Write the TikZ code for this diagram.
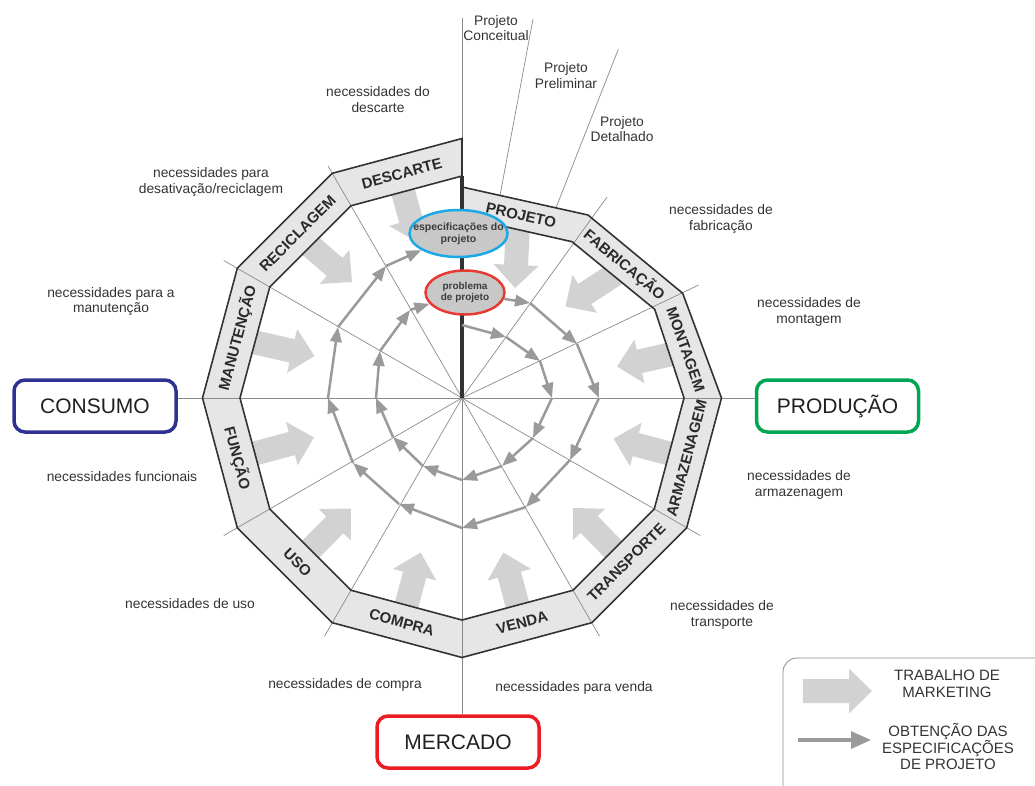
\documentclass[tikz,border=0pt]{standalone}
\usepackage{fontspec}
\setmainfont{Liberation Sans}
\usetikzlibrary{calc,arrows.meta,shapes.geometric}

\definecolor{bandfill}{HTML}{E6E6E6}
\definecolor{bandline}{HTML}{333333}
\definecolor{spokes}{HTML}{8A8A8A}
\definecolor{mkfill}{HTML}{D2D2D2}
\definecolor{spiralc}{HTML}{9A9A9A}
\definecolor{ellfill}{HTML}{C8C8C8}
\definecolor{specblue}{HTML}{1BA9E6}
\definecolor{probred}{HTML}{E63A32}
\definecolor{consblue}{HTML}{2E3192}
\definecolor{prodgreen}{HTML}{00A651}
\definecolor{mercred}{HTML}{ED1C24}
\definecolor{txt}{HTML}{333333}
\definecolor{ringtxt}{HTML}{2A2A2A}
\definecolor{elltxt}{HTML}{3C3C3C}
\definecolor{boxtxt}{HTML}{231F20}
\definecolor{framec}{HTML}{8C8C8C}

% broad flat arrow from tail #1 to tip #2
\newcommand\fatarrow[2]{%
  \coordinate (fab) at ($(#2)!23pt!(#1)$);
  \fill[mkfill] ($(#1)!12pt!90:(#2)$) -- ($(fab)!12pt!90:(#2)$)
    -- ($(fab)!22.5pt!90:(#2)$) -- (#2) -- ($(fab)!22.5pt!-90:(#2)$)
    -- ($(fab)!12pt!-90:(#2)$) -- ($(#1)!12pt!-90:(#2)$) -- cycle;}

\begin{document}
\begin{tikzpicture}[x=1pt,y=-1pt,
  needs/.style={font=\fontsize{13.8}{15.5}\selectfont, text=txt, align=center, inner sep=0pt},
  ringlbl/.style={font=\bfseries\fontsize{15}{15}\selectfont, text=ringtxt, inner sep=0pt},
  spoke/.style={draw=spokes, line width=0.7pt},
  axisline/.style={draw=spokes, line width=1pt},
  spiral/.style={draw=spiralc, line width=2.5pt, -{Triangle[length=15pt,width=11.5pt]}},
  bigbox/.style={draw=#1, line width=3.5pt, rounded corners=11pt, fill=white,
    minimum width=162pt, minimum height=52pt, inner sep=0pt,
    font=\fontsize{21}{21}\selectfont, text=boxtxt},
  ell/.style={ellipse, draw=#1, line width=2.5pt, fill=ellfill, inner sep=0pt},
  elltext/.style={align=center, text=elltxt, inner sep=0pt},
  legendtxt/.style={font=\fontsize{15}{16.7}\selectfont, text=txt, align=center, inner sep=0pt}
]
\useasboundingbox (0,0) rectangle (1035,785);

\coordinate (C) at (462,398);

% boxes of the four areas
\node[bigbox=consblue] (consumo) at (95,406) {CONSUMO};
\node[bigbox=prodgreen] (producao) at (837.5,406) {PRODUÇÃO};
\node[bigbox=mercred] (mercado) at (458,742) {MERCADO};

% main axes
\coordinate (topend) at (462,18);
\draw[axisline] (topend) -- (C |- mercado.north);
\draw[axisline] (consumo.east |- C) -- (producao.west |- C);

% ring vertices (outer / inner)
\coordinate (Ro0) at (462,187);      \coordinate (Ri0) at (462,217);
\coordinate (Ro1) at (588,215);      \coordinate (Ri1) at (572,241.7);
\coordinate (Ro2) at (682.7,293.3);  \coordinate (Ri2) at (654.7,309.3);
\coordinate (Ro3) at (721.5,398);    \coordinate (Ri3) at (684,398);
\coordinate (Ro4) at (686.7,527.75); \coordinate (Ri4) at (654.25,509);
\coordinate (Ro5) at (591.75,622.7); \coordinate (Ri5) at (573,590.25);
\coordinate (Ro6) at (462,657.5);    \coordinate (Ri6) at (462,620);
\coordinate (Ro7) at (332.25,622.7); \coordinate (Ri7) at (351,590.25);
\coordinate (Ro8) at (237.3,527.75); \coordinate (Ri8) at (269.75,509);
\coordinate (Ro9) at (202.5,398);    \coordinate (Ri9) at (240,398);
\coordinate (Ro10) at (237.3,268.25);\coordinate (Ri10) at (269.75,287);
\coordinate (Ro11) at (332.25,173.3);\coordinate (Ri11) at (351,205.75);
\coordinate (Ro12) at (462,138.5);   \coordinate (Ri12) at (462,176);

% marketing arrows (tails run under the ring)
\coordinate (mA1t) at (518,222);     \coordinate (mA1h) at (515,288);
\coordinate (mA2t) at (618.3,272.1); \coordinate (mA2h) at (565.5,306.5);
\coordinate (mA3t) at (675.2,353.3); \coordinate (mA3h) at (617,366.5);
\coordinate (mA4t) at (674.5,454.9); \coordinate (mA4h) at (613.6,438.6);
\coordinate (mA5t) at (617.6,553.6); \coordinate (mA5h) at (573,508);
\coordinate (mA6t) at (518.9,610.5); \coordinate (mA6h) at (503.4,552.5);
\coordinate (mA7t) at (405.1,610.5); \coordinate (mA7h) at (420.6,552.5);
\coordinate (mA8t) at (306.4,553.6); \coordinate (mA8h) at (351,508.5);
\coordinate (mA9t) at (249.5,454.9); \coordinate (mA9h) at (314,437.5);
\coordinate (mA10t) at (249.5,341.1);\coordinate (mA10h) at (314.5,356);
\coordinate (mA11t) at (306.4,242.4);\coordinate (mA11h) at (352,282);
\coordinate (mA12t) at (402,188);    \coordinate (mA12h) at (417,242);
\foreach \k in {1,...,12}{\fatarrow{mA\k t}{mA\k h}}

% ring band
\fill[bandfill] (Ro0) -- (Ro1) -- (Ro2) -- (Ro3) -- (Ro4) -- (Ro5) -- (Ro6)
  -- (Ro7) -- (Ro8) -- (Ro9) -- (Ro10) -- (Ro11) -- (Ro12)
  -- (Ri12) -- (Ri11) -- (Ri10) -- (Ri9) -- (Ri8) -- (Ri7) -- (Ri6)
  -- (Ri5) -- (Ri4) -- (Ri3) -- (Ri2) -- (Ri1) -- (Ri0) -- cycle;

% spokes
\coordinate (sk1) at (607,197);
\coordinate (sk2) at (698.7,285);
\coordinate (sk3) at (700.2,535.5);
\coordinate (sk4) at (599.5,636.2);
\coordinate (sk5) at (324.5,636.2);
\coordinate (sk6) at (223.8,535.5);
\coordinate (sk7) at (223.8,260.5);
\coordinate (sk8) at (328,165.9);
\foreach \k in {1,...,8}{\draw[spoke] (C) -- (sk\k);}
\draw[axisline] (Ro12) -- (C |- mercado.north);
\draw[axisline] (Ro9) -- (Ro3);

% design phase dividers
\coordinate (ph1a) at (533,19);     \coordinate (ph1b) at (500,195.5);
\coordinate (ph2a) at (618.3,49.3); \coordinate (ph2b) at (556,207.8);
\draw[spoke] (ph1a) -- (ph1b);
\draw[spoke] (ph2a) -- (ph2b);

% ring outline
\draw[bandline, line width=1.6pt, line join=miter] (Ro0) -- (Ro1) -- (Ro2) -- (Ro3) -- (Ro4) -- (Ro5) -- (Ro6)
  -- (Ro7) -- (Ro8) -- (Ro9) -- (Ro10) -- (Ro11) -- (Ro12)
  -- (Ri12) -- (Ri11) -- (Ri10) -- (Ri9) -- (Ri8) -- (Ri7) -- (Ri6)
  -- (Ri5) -- (Ri4) -- (Ri3) -- (Ri2) -- (Ri1) -- (Ri0) -- cycle;

% ring labels
\node[ringlbl, rotate=-12.5] (lProj) at (521,215.2) {PROJETO};
\node[ringlbl, rotate=-39.5] (lFab) at (624.4,264.8) {FABRICAÇÃO};
\node[ringlbl, rotate=-70.5] (lMont) at (685.7,349.7) {MONTAGEM};
\node[ringlbl, rotate=75] (lArm) at (686.6,458.2) {ARMAZENAGEM};
\node[ringlbl, rotate=45] (lTran) at (626.4,562.4) {TRANSPORTE};
\node[ringlbl, rotate=15] (lVend) at (522.2,622.6) {VENDA};
\node[ringlbl, rotate=-15] (lComp) at (401.8,622.6) {COMPRA};
\node[ringlbl, rotate=-45] (lUso) at (297.6,562.4) {USO};
\node[ringlbl, rotate=-75] (lFunc) at (237.4,458.2) {FUNÇÃO};
\node[ringlbl, rotate=75] (lManu) at (237.4,337.8) {MANUTENÇÃO};
\node[ringlbl, rotate=45] (lRec) at (297.6,233.6) {RECICLAGEM};
\node[ringlbl, rotate=15] (lDesc) at (401.8,173.4) {DESCARTE};

% central thick line
\draw[bandline, line width=4pt] (Ri12) -- (C);

% goal ellipses
\node[ell=specblue, minimum width=98pt, minimum height=47pt] (sp) at (458.5,233.5) {};
\node[elltext, font=\bfseries\fontsize{10.5}{12.3}\selectfont] (spt) at (sp) {especificações do\\projeto};
\node[ell=probred, minimum width=79pt, minimum height=44pt] (pb) at (465,292.5) {};
\node[elltext, font=\bfseries\fontsize{10}{11}\selectfont] (pbt) at (pb) {problema\\de projeto};

% spiral paths
\coordinate (si0) at (462,325);  \coordinate (si1) at (506,337);
\coordinate (si2) at (540,361);  \coordinate (si3) at (552,398);
\coordinate (si4) at (533,438);  \coordinate (si5) at (502,466);
\coordinate (si6) at (462,480);  \coordinate (si7) at (423,466);
\coordinate (si8) at (393,437);  \coordinate (si9) at (376,398);
\coordinate (si10) at (380,351); \coordinate (si11) at (410,310);
\foreach \a/\b in {si0/si1,si1/si2,si2/si3,si3/si4,si4/si5,si5/si6,si6/si7,si7/si8,si8/si9,si9/si10,si10/si11}
  {\draw[spiral] (\a) -- (\b);}
\draw[spiral] (si11) -- (pb);

\coordinate (so1) at (530,303);  \coordinate (so2) at (577,344);
\coordinate (so3) at (599,398);  \coordinate (so4) at (570,460);
\coordinate (so5) at (526,507);  \coordinate (so6) at (462,528);
\coordinate (so7) at (399,504);  \coordinate (so8) at (353,463);
\coordinate (so9) at (328,398);  \coordinate (so10) at (338,327);
\coordinate (so11) at (386,266);
\draw[spiral] (pb) -- (so1);
\foreach \a/\b in {so1/so2,so2/so3,so3/so4,so4/so5,so5/so6,so6/so7,so7/so8,so8/so9,so9/so10,so10/so11}
  {\draw[spiral] (\a) -- (\b);}
\draw[spiral] (so11) -- (sp);

% needs around the ring
\node[needs] (nDesc) at (378,99.5) {necessidades do\\descarte};
\node[needs] (nRec) at (211,182) {necessidades para\\desativação/reciclagem};
\node[needs] (nManu) at (111,301.5) {necessidades para a\\manutenção};
\node[needs] (nFunc) at (122,477) {necessidades funcionais};
\node[needs] (nUso) at (190,604) {necessidades de uso};
\node[needs] (nComp) at (345,685) {necessidades de compra};
\node[needs] (nVend) at (574,688) {necessidades para venda};
\node[needs] (nTran) at (722,615) {necessidades de\\transporte};
\node[needs] (nArm) at (799,485) {necessidades de\\armazenagem};
\node[needs] (nMont) at (809,312) {necessidades de\\montagem};
\node[needs] (nFab) at (721,219) {necessidades de\\fabricação};

% design phases
\node[needs] (pConc) at (496,28) {Projeto\\Conceitual};
\node[needs] (pPrel) at (566,75.5) {Projeto\\Preliminar};
\node[needs] (pDet) at (622,129) {Projeto\\Detalhado};

% legend
\draw[framec, line width=0.8pt, rounded corners=14pt] (783,790) -- (783,658) -- (1040,658);
\coordinate (lgA) at (803,691); \coordinate (lgB) at (872,691);
\fatarrow{lgA}{lgB}
\coordinate (lgC) at (798,740); \coordinate (lgD) at (871,740);
\draw[draw=spiralc, line width=3.3pt, -{Triangle[length=20pt,width=17pt]}] (lgC) -- (lgD);
\node[legendtxt] (lgT1) at (947,684) {TRABALHO DE\\MARKETING};
\node[legendtxt] (lgT2) at (948,746.5) {OBTENÇÃO DAS\\ESPECIFICAÇÕES\\DE PROJETO};
\end{tikzpicture}
\end{document}
